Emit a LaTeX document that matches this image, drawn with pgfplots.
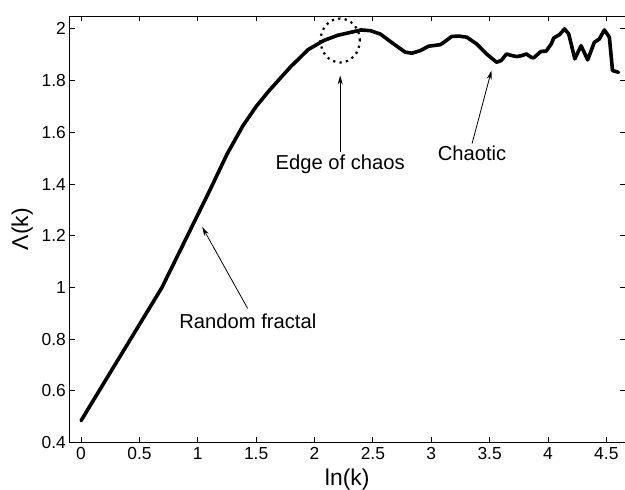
\documentclass[border=0pt]{standalone}
\usepackage{fontspec}
\setmainfont{Liberation Sans}
\usepackage{pgfplots}
\pgfplotsset{compat=1.18}
\usetikzlibrary{arrows.meta}
\begin{document}
\begin{tikzpicture}
\begin{axis}[
  scale only axis, width=556.5bp, height=427.3bp,
  xmin=-0.1, xmax=4.66, ymin=0.4, ymax=2.05,
  xtick={0,0.5,1,1.5,2,2.5,3,3.5,4,4.5},
  ytick={0.4,0.6,0.8,1,1.2,1.4,1.6,1.8,2},
  tick align=inside, major tick length=5.5bp,
  axis line style={line width=0.9bp},
  every tick/.style={line width=0.8bp, black},
  /pgf/number format/assume math mode=true,
  /pgf/number format/fixed,
  ticklabel style={font=\fontsize{17.5}{19}\selectfont},
  xticklabel style={yshift=-1bp},
  label style={font=\fontsize{23}{26}\selectfont},
  xlabel={ln(k)}, ylabel={Λ(k)},
  xlabel style={yshift=-3bp},
  ylabel style={yshift=2bp},
  clip=false,
]
\addplot[black, line width=3.6bp, line join=round, line cap=round] coordinates {
(0,0.485) (0.693,1.0) (1.099,1.372) (1.25,1.515) (1.386,1.625) (1.5,1.70) (1.609,1.760) (1.792,1.852)
(1.946,1.920) (2.079,1.955) (2.197,1.975) (2.303,1.986) (2.398,1.996)
(2.48,1.993) (2.564,1.980) (2.678,1.942) (2.777,1.910) (2.835,1.906)
(2.906,1.916) (2.977,1.933) (3.078,1.939) (3.12,1.952) (3.176,1.971)
(3.24,1.972) (3.304,1.968) (3.389,1.942) (3.474,1.903) (3.56,1.871)
(3.60,1.878) (3.645,1.903) (3.69,1.897) (3.73,1.893) (3.77,1.896)
(3.815,1.903) (3.857,1.890) (3.877,1.888) (3.90,1.897) (3.94,1.913)
(3.985,1.914) (4.028,1.942) (4.05,1.965) (4.10,1.978) (4.142,2.0)
(4.178,1.980) (4.23,1.884) (4.284,1.935) (4.34,1.880) (4.397,1.948)
(4.44,1.961) (4.483,1.996) (4.526,1.968) (4.553,1.839) (4.605,1.832)
};
% edge of chaos circle
\draw[black, line width=2.2bp, dash pattern=on 2.2bp off 4.3bp]
  (axis cs:2.22,1.955) ellipse[x radius=19.7bp, y radius=22bp];
% arrows
\draw[black, line width=0.8bp, -{Stealth[length=9bp,width=5bp]}]
  (axis cs:1.427,0.919) -- (axis cs:1.038,1.234);
\draw[black, line width=0.8bp, -{Stealth[length=9bp,width=5bp]}]
  (axis cs:2.22,1.524) -- (axis cs:2.22,1.82);
\draw[black, line width=0.8bp, -{Stealth[length=9bp,width=5bp]}]
  (axis cs:3.35,1.557) -- (axis cs:3.516,1.839);
% texts
\node[anchor=base, inner sep=0pt, font=\fontsize{20.3}{22}\selectfont] at (axis cs:1.429,0.842) {Random fractal};
\node[anchor=base, inner sep=0pt, font=\fontsize{20.3}{22}\selectfont] at (axis cs:2.22,1.457) {Edge of chaos};
\node[anchor=base, inner sep=0pt, font=\fontsize{20.3}{22}\selectfont] at (axis cs:3.35,1.491) {Chaotic};
\end{axis}
\pgfresetboundingbox
\path ([xshift=-69.5bp,yshift=-46.7bp]current axis.south west) rectangle ([yshift=16bp]current axis.north east);
\end{tikzpicture}
\end{document}
